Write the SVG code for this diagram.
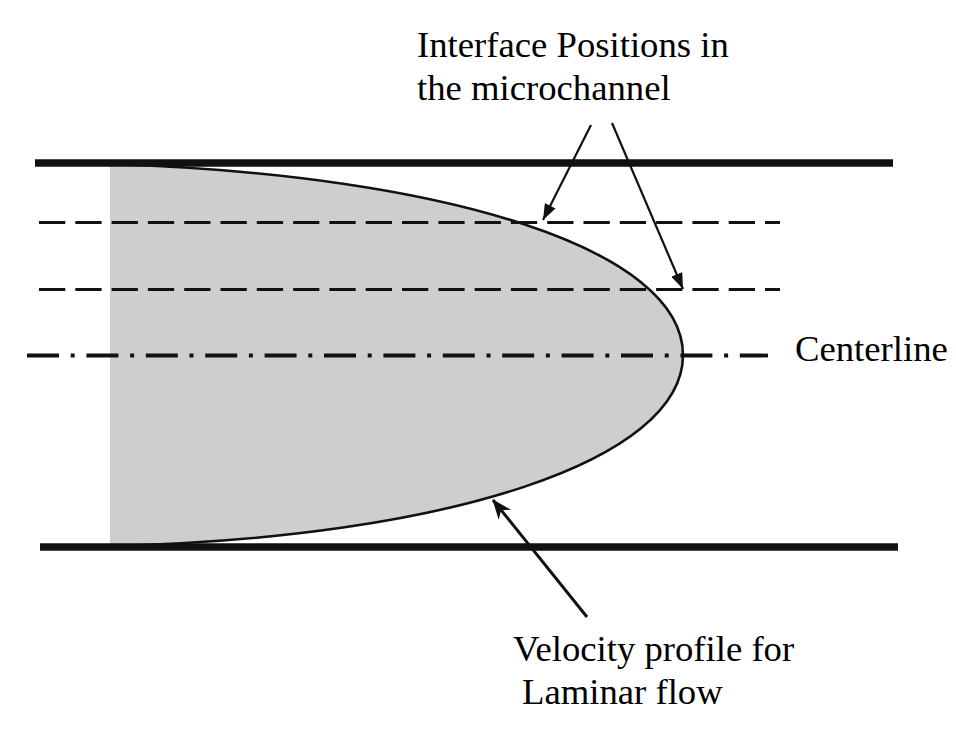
<svg xmlns="http://www.w3.org/2000/svg" width="956" height="730" viewBox="0 0 956 730">
<style>
.wall{stroke:#111;stroke-width:7.5;fill:none}
.dash{stroke:#111;stroke-width:3.2;stroke-dasharray:26.3 10;fill:none}
.center{stroke:#111;stroke-width:3.8;stroke-dasharray:32 11.7 4 11.7;fill:none}
.lead{stroke:#111;stroke-width:2.2;fill:none}
.lbl{font-family:"Liberation Serif","Times New Roman",serif;font-size:36.7px;fill:#000}
</style>
<defs>
<marker id="tri" viewBox="0 0 16 12" refX="16" refY="6" markerWidth="16" markerHeight="12" markerUnits="userSpaceOnUse" orient="auto">
<path d="M0,0 L16,6 L0,12 Z" fill="#111"/>
</marker>
<marker id="barb" viewBox="0 0 20 16" refX="19" refY="8" markerWidth="20" markerHeight="16" markerUnits="userSpaceOnUse" orient="auto">
<path d="M0,0 L20,8 L0,16 L6,8 Z" fill="#111"/>
</marker>
</defs>
<g id="profile">
<path d="M110,164 C450,175 683,250 683,355 C683,460 450,538 110,546 Z" fill="#cdcfcf" stroke="none"/>
<path d="M110,164 C450,175 683,250 683,355 C683,460 450,538 110,546" fill="none" stroke="#111" stroke-width="2.6"/>
</g>
<g id="walls">
<line class="wall" x1="35" y1="163" x2="893" y2="163"/>
<line class="wall" x1="40" y1="547" x2="898" y2="547"/>
</g>
<g id="interfaces">
<line class="dash" x1="39" y1="222.5" x2="780" y2="222.5"/>
<line class="dash" x1="39" y1="289.5" x2="780" y2="289.5"/>
</g>
<g id="centerline">
<line class="center" x1="27" y1="355.5" x2="768" y2="355.5"/>
</g>
<g id="connectors">
<line class="lead" x1="591" y1="125" x2="543" y2="220" marker-end="url(#tri)"/>
<line class="lead" x1="612" y1="123" x2="683" y2="289" marker-end="url(#tri)"/>
<line x1="587" y1="617" x2="493" y2="500" stroke="#111" stroke-width="3" marker-end="url(#barb)"/>
</g>
<g id="label-interface">
<text class="lbl" x="417" y="57">Interface Positions in</text>
<text class="lbl" x="417" y="100">the microchannel</text>
</g>
<g id="label-centerline">
<text class="lbl" x="795" y="361">Centerline</text>
</g>
<g id="label-velocity">
<text class="lbl" x="513" y="661">Velocity profile for</text>
<text class="lbl" x="522" y="704">Laminar flow</text>
</g>
</svg>
